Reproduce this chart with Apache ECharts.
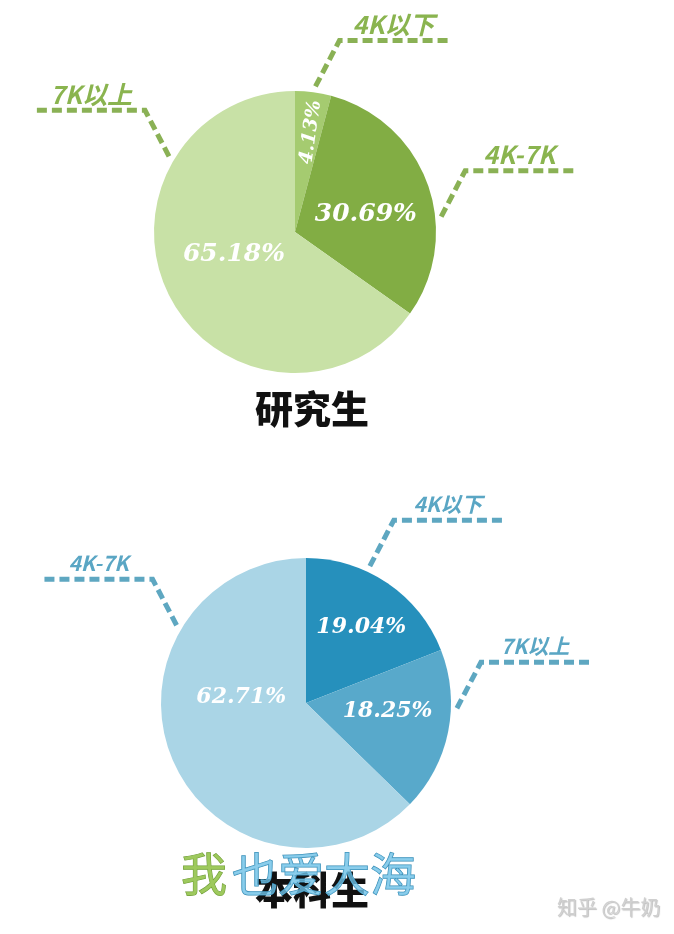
<!DOCTYPE html>
<html><head><meta charset="utf-8">
<script src="https://cdn.jsdelivr.net/npm/echarts@6/dist/echarts.min.js"></script>
<style>html,body{margin:0;padding:0;background:#fff}#c{width:674px;height:934px}</style>
</head><body><div id="c"></div>
<script>
// ---- data ----
const categoriesTop = ['4K以下', '4K-7K', '7K以上'];
const valuesTop = [4.13, 30.69, 65.18];
const categoriesBottom = ['4K以下', '7K以上', '4K-7K'];
const valuesBottom = [19.04, 18.25, 62.71];
const titleTop = '研究生';
const titleBottom = '本科生';
const watermark = ['我', '也爱大海'];
const credit = '知乎 @牛奶';

// ---- styles ----
const pies = [
  { center: [295, 232], r: 141, colors: ['#a5cb70', '#82ad44', '#c8e1a6'], line: '#8ab155', text: '#8ab44f', fs: 25,
    anchors: [8, 84, 301], inner: [[9, 101, 82, 19], [76, 73, 0, 25], [250, 65, 0, 25]] },
  { center: [306, 703], r: 145, colors: ['#2690bc', '#58a9cb', '#aad5e6'], line: '#5ea7c1', text: '#5aa6c4', fs: 21,
    anchors: [25, 92, 301], inner: [[36, 94, 0, 22], [96, 82, 0, 22], [275, 65, 0, 22]] }
];

const chart = echarts.init(document.getElementById('c'), null, { renderer: 'canvas' });

function pieIndex(p) { return p.seriesIndex < 2 ? 0 : 1; }

function innerLayout(p) {
  const pie = pies[pieIndex(p)];
  const s = pie.inner[p.dataIndex];
  const a = s[0] * Math.PI / 180;
  return {
    x: pie.center[0] + s[1] * Math.sin(a),
    y: pie.center[1] - s[1] * Math.cos(a),
    align: 'center', verticalAlign: 'middle'
  };
}

function outerLayout(p) {
  const pie = pies[pieIndex(p)];
  const a = pie.anchors[p.dataIndex] * Math.PI / 180;
  const side = Math.sin(a) >= 0 ? 1 : -1;
  const d = pie.r + 6;
  const sx = pie.center[0] + d * Math.sin(a), sy = pie.center[1] - d * Math.cos(a);
  const ex = sx + side * 24, ey = sy - 46;
  const hx = ex + side * 110;
  return {
    x: ex + side * 54, y: ey - 16, align: 'center', verticalAlign: 'middle',
    labelLinePoints: [[sx, sy], [ex, ey], [hx, ey]]
  };
}

function mainSeries(k, cats, vals) {
  const pie = pies[k];
  return {
    type: 'pie', center: pie.center, radius: [0, pie.r], startAngle: 90, clockwise: true,
    silent: true, animation: false, z: 2,
    data: cats.map((c, i) => ({
      name: c, value: vals[i],
      itemStyle: { color: pie.colors[i] },
      label: { rotate: pie.inner[i][2], fontSize: pie.inner[i][3] }
    })),
    label: {
      show: true, position: 'inside', formatter: p => p.value.toFixed(2) + '%',
      color: '#ffffff', fontWeight: 'bold', fontStyle: 'italic', fontFamily: 'DejaVu Serif'
    },
    labelLine: { show: false },
    labelLayout: innerLayout,
    emphasis: { disabled: true }
  };
}

function outerSeries(k, cats, vals) {
  const pie = pies[k];
  return {
    type: 'pie', center: pie.center, radius: [0, pie.r], startAngle: 90, clockwise: true,
    silent: true, animation: false, z: 3,
    data: cats.map((c, i) => ({ name: c, value: vals[i] })),
    itemStyle: { color: 'rgba(0,0,0,0)' },
    label: {
      show: true, position: 'outside', formatter: '{b}', overflow: 'none', width: 200,
      color: pie.text, fontSize: pie.fs, fontWeight: 'bold', fontStyle: 'italic',
      fontFamily: 'Noto Sans CJK SC'
    },
    labelLine: { show: true, length: 20, length2: 60, lineStyle: { color: pie.line, width: 5, type: [10, 5] } },
    labelLayout: outerLayout,
    emphasis: { disabled: true }
  };
}

chart.setOption({
  backgroundColor: '#ffffff',
  title: [
    { text: titleTop, left: 250, top: 385, textStyle: { fontSize: 38, fontWeight: 900, color: '#111', fontFamily: 'Noto Sans CJK SC' } },
    { text: titleBottom, left: 250, top: 866, textStyle: { fontSize: 38, fontWeight: 900, color: '#111', fontFamily: 'Noto Sans CJK SC' } },
    { text: '{g|' + watermark[0] + '} {b|' + watermark[1] + '}', left: 176, top: 846,
      textStyle: { fontWeight: 'normal', rich: {
        g: { fontSize: 46, fontWeight: 'normal', color: 'rgba(150,196,80,0.92)', textBorderColor: '#6e9a3a', textBorderWidth: 1, fontFamily: 'Noto Sans CJK SC' },
        b: { fontSize: 46, fontWeight: 'normal', color: 'rgba(110,192,230,0.8)', textBorderColor: '#3588b0', textBorderWidth: 1, fontFamily: 'Noto Sans CJK SC' }
      } } },
    { text: credit, left: 552, top: 892, textStyle: { fontSize: 20, fontWeight: 'normal', color: '#d0d0d0', fontFamily: 'Noto Sans CJK SC',
      textShadowColor: 'rgba(0,0,0,0.25)', textShadowBlur: 1, textShadowOffsetX: 1, textShadowOffsetY: 1 } }
  ],
  series: [
    mainSeries(0, categoriesTop, valuesTop),
    outerSeries(0, categoriesTop, valuesTop),
    mainSeries(1, categoriesBottom, valuesBottom),
    outerSeries(1, categoriesBottom, valuesBottom)
  ]
});
</script>
</body></html>
